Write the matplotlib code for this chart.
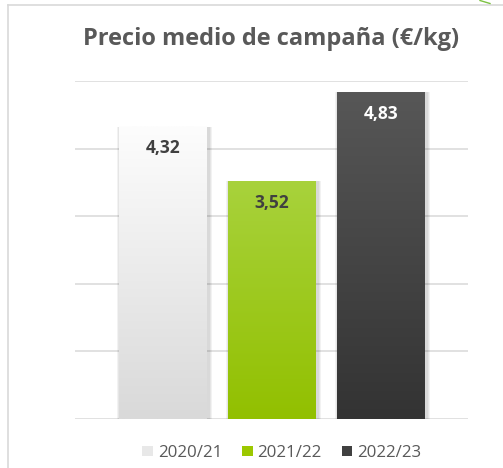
import numpy as np
import matplotlib.pyplot as plt
from matplotlib.patches import Patch
from matplotlib.lines import Line2D
from matplotlib.colors import LinearSegmentedColormap

# datos
campanas = ['2020/21', '2021/22', '2022/23']
precios = [4.32, 3.52, 4.83]
etiquetas = ['4,32', '3,52', '4,83']
colores_top = ['#fdfdfd', '#a8d23c', '#575757']
colores_bot = ['#d9d9d9', '#92c000', '#333333']
colores_legend = ['#e8e8e8', '#9cc800', '#404040']
color_texto = ['#404040', '#404040', '#ffffff']

plt.rcParams['font.family'] = ['Open Sans', 'DejaVu Sans']

W, H = 503, 468
fig = plt.figure(figsize=(W / 100, H / 100), dpi=100)
ax = fig.add_axes([75 / W, 1 - 419 / H, (468 - 75) / W, (419 - 81) / H])

ancho = 0.807
x = np.arange(len(campanas))
grad = np.linspace(0, 1, 256).reshape(-1, 1)

for i, v in enumerate(precios):
    # sombra suave
    for k, a in zip([0.10, 0.07, 0.04], [0.05, 0.05, 0.05]):
        ax.bar(x[i] + 0.015, v + k * 0.05, width=ancho + k * 0.6, bottom=-k * 0.05,
               color='black', alpha=a, zorder=2, linewidth=0)
    cmap = LinearSegmentedColormap.from_list('g%d' % i, [colores_bot[i], colores_top[i]])
    ax.imshow(grad, extent=[x[i] - ancho / 2, x[i] + ancho / 2, 0, v],
              origin='lower', aspect='auto', cmap=cmap, zorder=3)
    ax.annotate(etiquetas[i], (x[i], v), xytext=(0, -15.5), textcoords='offset points',
                ha='center', va='center', fontsize=12.5, fontweight='bold',
                color=color_texto[i], zorder=4)

ax.set_xlim(-0.807, 2.798)
ax.set_ylim(0, 5)
ax.set_yticks(range(6))
ax.yaxis.grid(True, color='#d9d9d9', linewidth=1.1, zorder=0)
ax.set_axisbelow(True)
ax.tick_params(left=False, bottom=False, labelleft=False, labelbottom=False)
for s in ax.spines.values():
    s.set_visible(False)

fig.text(271 / W, 1 - 39 / H, 'Precio medio de campaña (€/kg)', ha='center', va='center',
         fontsize=17, fontweight='bold', color='#595959')

handles = [Patch(facecolor=c, edgecolor='none') for c in colores_legend]
fig.legend(handles, campanas, loc='center', bbox_to_anchor=(282 / W, 1 - 453 / H),
           ncol=3, frameon=False, fontsize=12.2, labelcolor='#595959',
           handlelength=0.6, handleheight=0.6, handletextpad=0.3, columnspacing=1.2)

# marco del grafico
fig.add_artist(Line2D([8 / W, 8 / W], [0, 1 - 4.5 / H], color='#d9d9d9', linewidth=1.2))
fig.add_artist(Line2D([8 / W, 1], [1 - 4.5 / H, 1 - 4.5 / H], color='#d9d9d9', linewidth=1.2))
fig.add_artist(Line2D([480 / W, 490 / W], [1 - 0.5 / H, 1 - 3.5 / H], color='#7cc242', linewidth=1))

fig.savefig('out.png', dpi=100)
